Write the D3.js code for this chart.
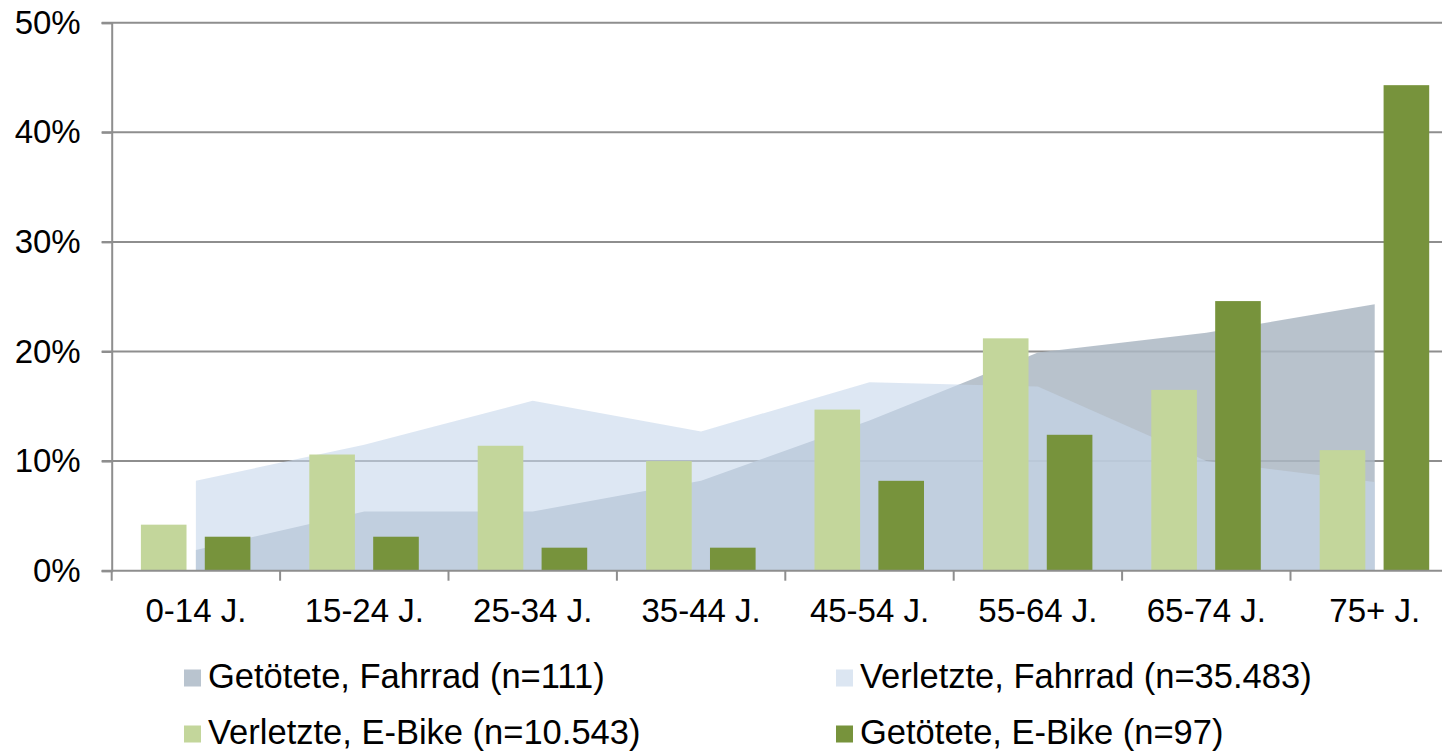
<!DOCTYPE html>
<html>
<head>
<meta charset="utf-8">
<script src="https://cdn.jsdelivr.net/npm/d3@7"></script>
<style>
  body { margin: 0; background: #fff; }
  svg { display: block; font-family: "Liberation Sans", Arial, sans-serif; }
</style>
</head>
<body>
<script>
// data (share per age group)
let categories = ['0-14 J.', '15-24 J.', '25-34 J.', '35-44 J.', '45-54 J.', '55-64 J.', '65-74 J.', '75+ J.'];
let getoeteteFahrrad = [0.019, 0.054, 0.054, 0.082, 0.137, 0.199, 0.217, 0.243];
let verletzteFahrrad = [0.082, 0.115, 0.155, 0.127, 0.172, 0.168, 0.100, 0.081];
let verletzteEBike = [0.042, 0.106, 0.114, 0.100, 0.147, 0.212, 0.165, 0.110];
let getoeteteEBike = [0.031, 0.031, 0.021, 0.021, 0.082, 0.124, 0.246, 0.443];
let yTicks = [0, 0.1, 0.2, 0.3, 0.4, 0.5];
let legendLabels = ['Getötete, Fahrrad (n=111)', 'Verletzte, Fahrrad (n=35.483)',
                    'Verletzte, E-Bike (n=10.543)', 'Getötete, E-Bike (n=97)'];

let chartWidth = 1442, chartHeight = 751;
let plotLeft = 111.7, plotTop = 22.7, plotBottom = 570.7;
let step = 168.4;

var svg = d3.select('body').append('svg')
    .attr('width', chartWidth)
    .attr('height', chartHeight);

var xScale = d3.scaleBand()
    .domain(categories)
    .range([plotLeft, plotLeft + step * categories.length]);
var xSub = d3.scaleBand()
    .domain(['verletzt', 'getoetet'])
    .range([-55, 54.5])
    .paddingInner(0.286);
var yScale = d3.scaleLinear()
    .domain([0, 0.5])
    .range([plotBottom, plotTop]);

function center(c) { return xScale(c) + xScale.bandwidth() / 2; }

// gridlines
svg.append('g').selectAll('line')
    .data(yTicks.slice(1))
    .enter().append('line')
    .attr('x1', plotLeft - 10).attr('x2', chartWidth)
    .attr('y1', d => yScale(d)).attr('y2', d => yScale(d))
    .attr('stroke', '#8e8e8e')
    .attr('stroke-width', 2);

// areas
var areaGen = d3.area()
    .x((d, i) => center(categories[i]))
    .y0(yScale(0))
    .y1(d => yScale(d));

svg.append('path')
    .datum(getoeteteFahrrad)
    .attr('d', areaGen)
    .attr('fill', '#abb7c3')
    .attr('fill-opacity', 0.85);
svg.append('path')
    .datum(verletzteFahrrad)
    .attr('d', areaGen)
    .attr('fill', '#c6d7eb')
    .attr('fill-opacity', 0.6);

// bars
var bars = svg.append('g');
bars.selectAll('rect.v')
    .data(verletzteEBike)
    .enter().append('rect')
    .attr('class', 'v')
    .attr('x', (d, i) => center(categories[i]) + xSub('verletzt'))
    .attr('width', xSub.bandwidth())
    .attr('y', d => yScale(d))
    .attr('height', d => yScale(0) - yScale(d))
    .attr('fill', '#c3d69b');
bars.selectAll('rect.g')
    .data(getoeteteEBike)
    .enter().append('rect')
    .attr('class', 'g')
    .attr('x', (d, i) => center(categories[i]) + xSub('getoetet'))
    .attr('width', xSub.bandwidth())
    .attr('y', d => yScale(d))
    .attr('height', d => yScale(0) - yScale(d))
    .attr('fill', '#77933c');

// y axis
var yAxis = d3.axisLeft(yScale)
    .tickValues(yTicks)
    .tickFormat(d3.format('.0%'))
    .tickSize(10)
    .tickPadding(21);
var gy = svg.append('g')
    .attr('transform', 'translate(' + plotLeft + ',0)')
    .call(yAxis);
gy.select('.domain').attr('stroke', '#8e8e8e').attr('stroke-width', 2);
gy.selectAll('.tick line').attr('stroke', '#8e8e8e').attr('stroke-width', 2);
gy.selectAll('.tick text')
    .attr('font-size', 33)
    .attr('font-family', '"Liberation Sans", Arial, sans-serif')
    .attr('fill', '#000');

// x axis
var xAxis = d3.axisBottom(xScale)
    .tickSize(0)
    .tickPadding(28);
var gx = svg.append('g')
    .attr('transform', 'translate(0,' + plotBottom + ')')
    .call(xAxis);
gx.select('.domain').remove();
gx.selectAll('.tick text')
    .attr('font-size', 33)
    .attr('font-family', '"Liberation Sans", Arial, sans-serif')
    .attr('fill', '#000');
svg.append('line')
    .attr('x1', plotLeft - 10).attr('x2', chartWidth)
    .attr('y1', plotBottom).attr('y2', plotBottom)
    .attr('stroke', '#8e8e8e').attr('stroke-width', 2);
svg.append('g').selectAll('line')
    .data(categories)
    .enter().append('line')
    .attr('x1', d => xScale(d)).attr('x2', d => xScale(d))
    .attr('y1', plotBottom).attr('y2', plotBottom + 10)
    .attr('stroke', '#8e8e8e').attr('stroke-width', 2);

// legend
let legendColors = ['#b9c4cf', '#dce6f2', '#c3d69b', '#77933c'];
let legendX = [184, 836];
let legendY = [678, 734];
var legend = svg.append('g');
legendLabels.forEach(function(label, i) {
    let lx = legendX[i % 2], ly = legendY[Math.floor(i / 2)];
    legend.append('rect')
        .attr('x', lx).attr('y', ly - 8.5)
        .attr('width', 17).attr('height', 17)
        .attr('fill', legendColors[i]);
    legend.append('text')
        .attr('x', lx + 24).attr('y', ly + 10)
        .attr('font-size', 34.5)
        .attr('fill', '#000')
        .text(label);
});
</script>
</body>
</html>
